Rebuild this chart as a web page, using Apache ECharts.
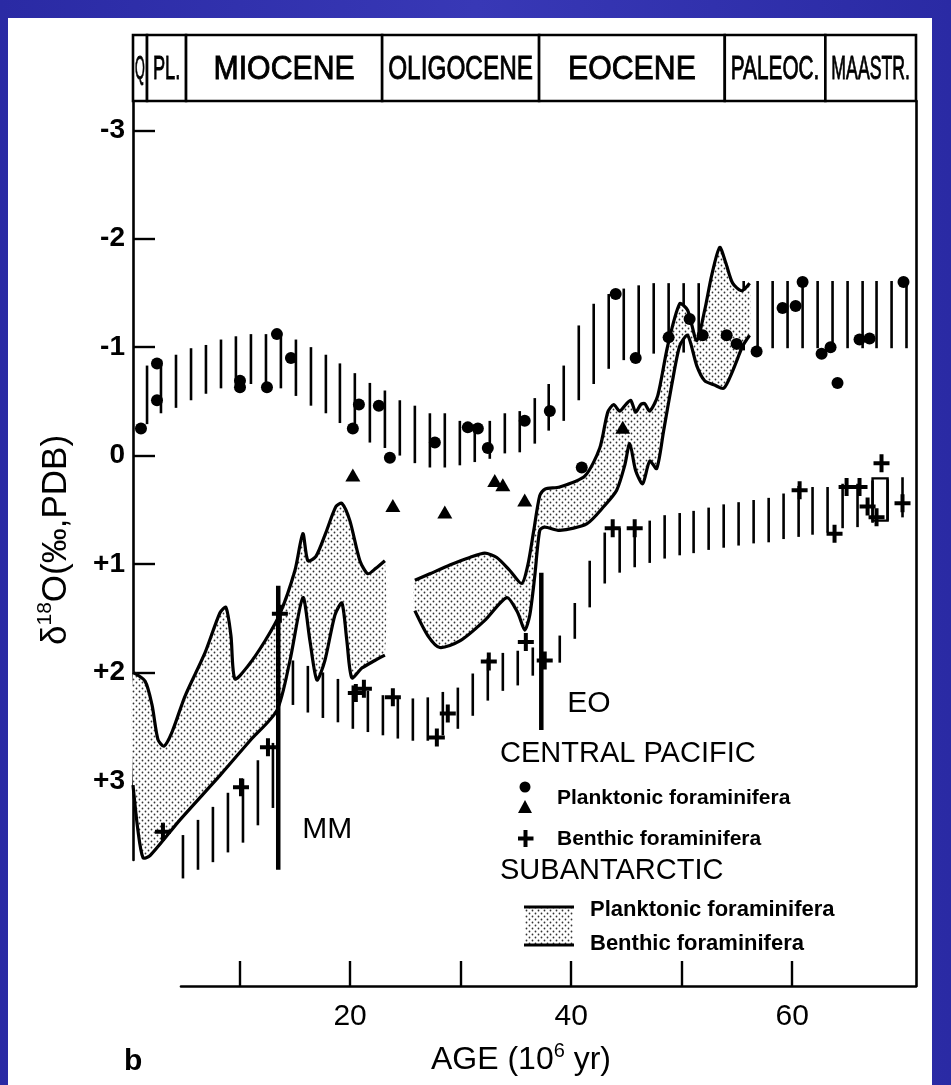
<!DOCTYPE html>
<html>
<head>
<meta charset="utf-8">
<script src="https://cdn.jsdelivr.net/npm/echarts@6/dist/echarts.min.js"></script>
<style>
  html, body { margin: 0; padding: 0; width: 951px; height: 1085px; overflow: hidden;
    background: linear-gradient(90deg, #2a2aa4 0%, #3838b6 50%, #2a2aa4 100%); }
  #panel { position: absolute; left: 8px; top: 18px; width: 924px; height: 1067px; background: #fff; }
  #chart { position: absolute; left: 0; top: 0; width: 951px; height: 1085px; }
</style>
</head>
<body>
<div id="panel"></div>
<div id="chart"></div>
<script>
// ---- Geological time scale (Ma) ----
const epochNames  = ['Q', 'PL.', 'MIOCENE', 'OLIGOCENE', 'EOCENE', 'PALEOC.', 'MAASTR.'];
const epochBounds = [0.36, 1.63, 5.16, 22.9, 37.1, 53.9, 63.0, 71.2];

// ---- Axis ticks ----
const ageTicks   = [10, 20, 30, 40, 50, 60];
const ageLabels  = [20, 40, 60];
const deltaTicks = [-3, -2, -1, 0, 1, 2, 3];

// ---- Central Pacific, planktonic envelope (hatched bars: age, top, bottom) ----
const pkHatchAge = [1.63, 2.89, 4.25, 5.61, 6.96, 8.32, 9.67, 11.03, 12.39, 13.74,
  15.10, 16.46, 17.81, 19.08, 20.43, 21.79, 23.15, 24.50, 25.86, 27.22,
  28.57, 29.93, 31.28, 32.64, 34.00, 35.35, 36.71, 37.97, 39.33, 40.69,
  42.04, 43.40, 44.76, 46.11, 47.47, 48.82, 50.18, 51.54, 52.89, 54.25,
  55.61, 56.87, 58.23, 59.58, 60.94, 62.30, 63.65, 65.01, 66.37, 67.63, 68.99, 70.34];
const pkHatchTop = [-0.83, -0.88, -0.93, -0.99, -1.02, -1.07, -1.10, -1.12, -1.12, -1.12,
  -1.07, -1.00, -0.93, -0.85, -0.76, -0.67, -0.60, -0.51, -0.46, -0.39,
  -0.39, -0.32, -0.29, -0.32, -0.39, -0.41, -0.53, -0.66, -0.83, -1.20,
  -1.40, -1.49, -1.54, -1.57, -1.59, -1.59, -1.59, -1.59, -1.60, -1.60,
  -1.61, -1.61, -1.61, -1.61, -1.61, -1.61, -1.61, -1.61, -1.61, -1.61, -1.61, -1.61];
const pkHatchBottom = [-0.29, -0.39, -0.44, -0.51, -0.57, -0.62, -0.65, -0.66, -0.65, -0.62,
  -0.55, -0.46, -0.39, -0.30, -0.23, -0.12, -0.07, 0.00, 0.07, 0.11,
  0.11, 0.09, 0.06, 0.03, -0.02, -0.03, -0.11, -0.23, -0.32, -0.51,
  -0.66, -0.80, -0.88, -0.89, -0.94, -0.95, -0.95, -1.00, -0.99, -0.99,
  -0.97, -0.97, -0.99, -0.99, -0.99, -0.99, -0.99, -0.99, -0.99, -0.99, -0.99, -0.99];

// ---- Central Pacific, benthic envelope (hatched bars: age, top, bottom) ----
const bnHatchAge = [4.88, 6.24, 7.59, 8.95, 10.31, 11.66, 13.02,
  14.83, 16.18, 17.54, 18.90, 20.25, 21.61, 22.97, 24.32, 25.68, 27.03, 28.39, 29.75, 31.10, 32.46, 33.82, 35.17, 36.53,
  38.97, 40.33, 41.68, 43.04, 44.39, 45.75, 47.11, 48.46, 49.82, 51.08, 52.44, 53.80,
  55.15, 56.51, 57.87, 59.22, 60.58, 61.84, 63.20, 64.56, 65.91, 67.27, 68.63, 69.98];
const bnHatchTop = [3.50, 3.36, 3.24, 3.11, 2.98, 2.81, 2.65,
  1.89, 1.94, 2.00, 2.06, 2.12, 2.17, 2.21, 2.24, 2.24, 2.23, 2.18, 2.14, 2.01, 1.87, 1.82, 1.80, 1.77,
  1.66, 1.36, 0.97, 0.71, 0.67, 0.66, 0.60, 0.55, 0.53, 0.51, 0.48, 0.45,
  0.43, 0.41, 0.39, 0.35, 0.28, 0.29, 0.29, 0.26, 0.26, 0.23, 0.22, 0.20];
const bnHatchBottom = [3.90, 3.82, 3.75, 3.66, 3.57, 3.41, 3.25,
  2.30, 2.37, 2.42, 2.46, 2.52, 2.55, 2.58, 2.61, 2.63, 2.63, 2.58, 2.52, 2.40, 2.26, 2.17, 2.12, 2.03,
  1.91, 1.69, 1.40, 1.18, 1.08, 1.03, 0.99, 0.95, 0.92, 0.90, 0.87, 0.85,
  0.83, 0.81, 0.80, 0.77, 0.75, 0.73, 0.71, 0.67, 0.66, 0.62, 0.60, 0.57];

// ---- Central Pacific samples [age, d18O] ----
const planktonicDots = [[1.08, -0.25], [2.53, -0.51], [2.53, -0.85], [10.04, -0.69], [10.04, -0.63],
  [12.48, -0.63], [13.38, -1.12], [14.65, -0.90], [20.25, -0.25], [20.80, -0.47], [22.60, -0.46],
  [23.60, 0.02], [27.67, -0.12], [30.65, -0.26], [31.56, -0.25], [32.46, -0.07], [35.80, -0.32],
  [38.07, -0.41], [40.96, 0.11], [44.03, -1.49], [45.84, -0.90], [48.82, -1.09], [50.72, -1.26],
  [51.90, -1.11], [54.07, -1.11], [54.97, -1.03], [56.78, -0.96], [59.13, -1.36], [60.31, -1.38],
  [60.94, -1.60], [62.66, -0.94], [63.47, -1.00], [64.10, -0.67], [66.09, -1.07], [67.00, -1.08],
  [70.07, -1.60]];
const planktonicTriangles = [[20.25, 0.18], [23.87, 0.46], [28.57, 0.52], [33.09, 0.23],
  [33.82, 0.27], [35.80, 0.41], [44.67, -0.26]];
const benthicCrosses = [[3.07, 3.47], [10.13, 3.06], [12.57, 2.69], [13.65, 1.46], [20.52, 2.19],
  [21.25, 2.15], [23.87, 2.23], [27.85, 2.60], [28.84, 2.38], [32.55, 1.90], [35.90, 1.72],
  [37.61, 1.89], [43.76, 0.67], [45.75, 0.67], [60.67, 0.32], [63.83, 0.72], [64.92, 0.29],
  [66.09, 0.29], [66.82, 0.47], [67.63, 0.57], [68.08, 0.07], [69.98, 0.44]];
// benthic range box [ageFrom, ageTo, d18O top, d18O bottom]
const benthicRangeBox = [67.27, 68.63, 0.21, 0.60];

// ---- Subantarctic bands: planktonic (upper) and benthic (lower) curves ----
const bandAUpper = [[0.36, 2.00], [1.45, 2.08], [2.08, 2.30], [2.62, 2.62], [3.16, 2.68], [3.89, 2.55],
  [5.06, 2.22], [6.87, 1.82], [8.23, 1.45], [8.77, 1.40], [9.22, 1.66], [9.58, 2.06], [10.76, 1.94],
  [12.30, 1.71], [13.65, 1.46], [15.01, 1.06], [15.73, 0.72], [16.18, 0.97], [16.91, 0.93],
  [17.81, 0.71], [18.72, 0.47], [19.26, 0.44], [19.98, 0.60], [20.89, 0.97], [21.61, 1.09],
  [22.33, 1.04], [23.15, 0.97]];
const bandALower = [[0.36, 3.04], [0.81, 3.46], [1.27, 3.71], [1.90, 3.69], [4.61, 3.36], [8.23, 2.95],
  [10.94, 2.63], [13.38, 2.35], [14.56, 1.89], [15.73, 1.31], [16.37, 1.71], [17.00, 2.07],
  [17.72, 1.89], [18.63, 1.47], [19.26, 1.36], [19.71, 1.71], [20.16, 2.05], [21.07, 1.96],
  [22.24, 1.89], [23.15, 1.84]];
const bandBUpper = [[25.86, 1.15], [27.22, 1.09], [29.02, 1.01], [30.83, 0.94], [32.19, 0.90],
  [33.27, 0.94], [34.45, 1.06], [35.53, 1.18], [36.08, 1.01], [36.62, 0.69], [37.16, 0.37],
  [37.61, 0.31], [38.97, 0.29], [41.23, 0.19], [42.59, -0.07], [43.31, -0.40], [43.85, -0.47],
  [44.39, -0.41], [44.94, -0.47], [45.39, -0.51], [45.84, -0.40], [46.29, -0.47], [46.65, -0.48],
  [47.11, -0.41], [47.83, -0.55], [48.73, -1.01], [49.82, -1.40], [50.54, -1.34], [51.36, -1.06],
  [52.08, -1.34], [52.71, -1.66], [53.44, -1.92], [53.98, -1.78], [54.61, -1.59], [55.42, -1.52],
  [56.15, -1.59]];
const bandBLower = [[25.86, 1.43], [27.03, 1.66], [28.12, 1.77], [29.93, 1.71], [32.19, 1.52],
  [34.18, 1.31], [35.17, 1.45], [35.80, 1.61], [36.26, 1.47], [36.71, 1.11], [37.16, 0.69],
  [37.61, 0.66], [38.97, 0.69], [41.41, 0.63], [43.04, 0.46], [44.12, 0.32], [44.85, 0.09],
  [45.30, -0.11], [45.84, 0.14], [46.47, 0.26], [47.11, 0.05], [47.74, 0.12], [48.37, -0.23],
  [49.10, -0.65], [49.82, -1.01], [50.54, -1.11], [51.36, -0.83], [52.08, -0.69], [52.98, -0.65],
  [53.80, -0.62], [54.61, -0.78], [55.52, -1.01], [56.15, -1.11]];

// ---- Events: Middle Miocene, Eocene/Oligocene ----
const eventNames  = ['MM', 'EO'];
const eventAges   = [13.5, 37.3];
const eventTop    = [1.20, 1.08];
const eventBottom = [3.82, 2.53];

// ------------------------------------------------------------------
const FONT = '"Liberation Sans", Arial, Helvetica, sans-serif';
const bands = [
  { upper: bandAUpper, lower: bandALower },
  { upper: bandBUpper, lower: bandBLower }
];

function makeStipple() {
  const c = document.createElement('canvas');
  c.width = 6; c.height = 6;
  const g = c.getContext('2d');
  g.fillStyle = '#ffffff'; g.fillRect(0, 0, 6, 6);
  g.fillStyle = '#333';
  g.beginPath(); g.arc(1.5, 1.5, 0.9, 0, 7); g.fill();
  g.beginPath(); g.arc(4.5, 4.5, 0.9, 0, 7); g.fill();
  return c;
}
const stipple = { image: makeStipple(), repeat: 'repeat' };
const measureCtx = document.createElement('canvas').getContext('2d');

function hatchRenderer(width) {
  return function (params, api) {
    const a = api.coord([api.value(0), api.value(1)]);
    const b = api.coord([api.value(0), api.value(2)]);
    return { type: 'line', shape: { x1: a[0], y1: a[1], x2: b[0], y2: b[1] },
      style: { stroke: '#000', lineWidth: width } };
  };
}

const labelOffset = { MM: [24, -40], EO: [26, -26] };

const chart = echarts.init(document.getElementById('chart'), null, { renderer: 'canvas' });

const option = {
  animation: false,
  backgroundColor: 'transparent',
  grid: [
    { left: 133, right: 35, top: 35, height: 66, containLabel: false },
    { left: 133, right: 35, top: 101, bottom: 225, containLabel: false },
    { left: 181, right: 35, top: 101, bottom: 99, containLabel: false }
  ],
  xAxis: [
    { gridIndex: 0, type: 'value', min: 0.36, max: 71.2, show: false },
    { gridIndex: 1, type: 'value', min: 0.36, max: 71.2, show: false },
    { gridIndex: 2, type: 'value', min: 4.70, max: 71.2, position: 'bottom',
      splitLine: { show: false },
      axisLine: { show: true, lineStyle: { color: '#000', width: 2.6 } },
      axisTick: { show: true, inside: true, length: 25, customValues: ageTicks,
        lineStyle: { color: '#000', width: 2.4 } },
      axisLabel: { show: true, customValues: ageLabels, margin: 16, color: '#000',
        fontSize: 30, fontFamily: FONT } }
  ],
  yAxis: [
    { gridIndex: 0, type: 'value', min: 0, max: 1, show: false },
    { gridIndex: 1, type: 'value', inverse: true, min: -3.27, max: 3.73,
      splitLine: { show: false },
      axisLine: { show: true, lineStyle: { color: '#000', width: 2.6 } },
      axisTick: { show: true, inside: true, length: 22, customValues: deltaTicks,
        lineStyle: { color: '#000', width: 2.4 } },
      axisLabel: { show: true, customValues: deltaTicks, margin: 8, color: '#000',
        fontSize: 28, fontWeight: 'bold', fontFamily: FONT,
        formatter: v => (v > 0 ? '+' + v : (v < 0 ? '-' + Math.abs(v) : '0')) } },
    { gridIndex: 2, type: 'value', min: 0, max: 1, position: 'right',
      splitLine: { show: false }, axisTick: { show: false }, axisLabel: { show: false },
      axisLine: { show: true, lineStyle: { color: '#000', width: 2.6 } } }
  ],
  series: [
    {
      name: 'Epochs', type: 'custom', xAxisIndex: 0, yAxisIndex: 0, z: 2,
      data: epochNames.map((n, i) => [epochBounds[i], epochBounds[i + 1], i]),
      encode: { x: [0, 1] },
      renderItem(params, api) {
        const a = api.coord([api.value(0), 1]);
        const b = api.coord([api.value(1), 0]);
        const name = epochNames[api.value(2)];
        const w = b[0] - a[0];
        const font = '34px ' + FONT;
        measureCtx.font = font;
        const tw = measureCtx.measureText(name).width;
        const pad = Math.min(12, w * 0.3);
        const s = Math.min(0.89, (w - pad) / tw);
        return { type: 'group', children: [
          { type: 'rect', shape: { x: a[0], y: a[1], width: w, height: b[1] - a[1] },
            style: { fill: '#fff', stroke: '#000', lineWidth: 2.6 } },
          { type: 'text', x: (a[0] + b[0]) / 2, y: (a[1] + b[1]) / 2 + 2, scaleX: s,
            style: { text: name, font: font, fill: '#000', stroke: '#000', lineWidth: 0.9,
              align: 'center', verticalAlign: 'middle', textAlign: 'center', textVerticalAlign: 'middle' } }
        ] };
      }
    },
    {
      name: 'Planktonic envelope', type: 'custom', xAxisIndex: 1, yAxisIndex: 1, z: 2,
      data: pkHatchAge.map((a, i) => [a, pkHatchTop[i], pkHatchBottom[i]]),
      encode: { x: 0, y: [1, 2] },
      renderItem: hatchRenderer(2.6)
    },
    {
      name: 'Benthic envelope', type: 'custom', xAxisIndex: 1, yAxisIndex: 1, z: 2,
      data: bnHatchAge.map((a, i) => [a, bnHatchTop[i], bnHatchBottom[i]]),
      encode: { x: 0, y: [1, 2] },
      renderItem: hatchRenderer(2.6)
    },
    {
      name: 'Subantarctic', type: 'custom', xAxisIndex: 1, yAxisIndex: 1, z: 3,
      data: bands.map((b, i) => [b.upper[0][0], b.upper[0][1], i]),
      encode: { x: 0, y: 1 },
      renderItem(params, api) {
        const b = bands[api.value(2)];
        const up = b.upper.map(p => api.coord(p));
        const lo = b.lower.map(p => api.coord(p));
        return { type: 'group', children: [
          { type: 'polygon', shape: { points: up.concat(lo.slice().reverse()), smooth: 0.25 },
            style: { fill: stipple, stroke: null } },
          { type: 'polyline', shape: { points: up, smooth: 0.25 },
            style: { stroke: '#000', lineWidth: 3.2, fill: null } },
          { type: 'polyline', shape: { points: lo, smooth: 0.25 },
            style: { stroke: '#000', lineWidth: 3.2, fill: null } }
        ] };
      }
    },
    {
      name: 'Events', type: 'custom', xAxisIndex: 1, yAxisIndex: 1, z: 4,
      data: eventNames.map((n, i) => [eventAges[i], eventTop[i], eventBottom[i], i]),
      encode: { x: 0, y: [1, 2] },
      renderItem(params, api) {
        const t = api.coord([api.value(0), api.value(1)]);
        const b = api.coord([api.value(0), api.value(2)]);
        const name = eventNames[api.value(3)];
        const off = labelOffset[name];
        return { type: 'group', children: [
          { type: 'line', shape: { x1: t[0], y1: t[1], x2: b[0], y2: b[1] },
            style: { stroke: '#000', lineWidth: 4.5 } },
          { type: 'text', x: b[0] + off[0], y: b[1] + off[1],
            style: { text: name, font: '30px ' + FONT, fill: '#000',
              align: 'left', verticalAlign: 'middle', textAlign: 'left', textVerticalAlign: 'middle' } }
        ] };
      }
    },
    {
      name: 'Benthic range', type: 'custom', xAxisIndex: 1, yAxisIndex: 1, z: 4,
      data: [benthicRangeBox],
      encode: { x: [0, 1], y: [2, 3] },
      renderItem(params, api) {
        const a = api.coord([api.value(0), api.value(2)]);
        const b = api.coord([api.value(1), api.value(3)]);
        return { type: 'rect', shape: { x: a[0], y: a[1], width: b[0] - a[0], height: b[1] - a[1] },
          style: { fill: null, stroke: '#000', lineWidth: 2.4 } };
      }
    },
    {
      name: 'Planktonic foraminifera', type: 'scatter', xAxisIndex: 1, yAxisIndex: 1, z: 5,
      symbol: 'circle', symbolSize: 12, itemStyle: { color: '#000', opacity: 1 },
      data: planktonicDots
    },
    {
      name: 'Planktonic foraminifera (triangles)', type: 'scatter', xAxisIndex: 1, yAxisIndex: 1, z: 5,
      symbol: 'triangle', symbolSize: [15, 13], itemStyle: { color: '#000', opacity: 1 },
      data: planktonicTriangles
    },
    {
      name: 'Benthic foraminifera', type: 'scatter', xAxisIndex: 1, yAxisIndex: 1, z: 5,
      symbol: 'path://M6,0H10V7H16V11H10V18H6V11H0V7H6Z', symbolSize: [16, 18],
      itemStyle: { color: '#000', opacity: 1 },
      data: benthicCrosses
    }
  ],
  graphic: [
    { type: 'text', x: 56, y: 540, rotation: Math.PI / 2,
      style: { text: '{a|δ}{s|18}{a|O(‰,PDB)}', fill: '#000',
        align: 'center', verticalAlign: 'middle', textAlign: 'center', textVerticalAlign: 'middle',
        rich: { a: { fontSize: 35, fontFamily: FONT, lineHeight: 42 },
                s: { fontSize: 21, fontFamily: FONT, verticalAlign: 'top', lineHeight: 42 } } } },
    { type: 'text', x: 521, y: 1060,
      style: { text: '{a|AGE (10}{s|6}{a| yr)}', fill: '#000',
        align: 'center', verticalAlign: 'middle', textAlign: 'center', textVerticalAlign: 'middle',
        rich: { a: { fontSize: 32, fontFamily: FONT, lineHeight: 38 },
                s: { fontSize: 20, fontFamily: FONT, verticalAlign: 'top', lineHeight: 38 } } } },
    { type: 'text', x: 124, y: 1062,
      style: { text: 'b', font: 'bold 30px ' + FONT, fill: '#000',
        align: 'left', verticalAlign: 'middle', textAlign: 'left', textVerticalAlign: 'middle' } },
    // legend
    { type: 'text', x: 500, y: 754,
      style: { text: 'CENTRAL PACIFIC', font: '29px ' + FONT, fill: '#000',
        align: 'left', verticalAlign: 'middle', textAlign: 'left', textVerticalAlign: 'middle' } },
    { type: 'circle', shape: { cx: 525, cy: 787, r: 5.5 }, style: { fill: '#000' } },
    { type: 'polygon', shape: { points: [[525, 800], [532, 813], [518, 813]] }, style: { fill: '#000' } },
    { type: 'text', x: 557, y: 798,
      style: { text: 'Planktonic foraminifera', font: 'bold 21px ' + FONT, fill: '#000',
        align: 'left', verticalAlign: 'middle', textAlign: 'left', textVerticalAlign: 'middle' } },
    { type: 'rect', shape: { x: 523.5, y: 830, width: 4, height: 17 }, style: { fill: '#000' } },
    { type: 'rect', shape: { x: 518, y: 836.5, width: 15.5, height: 4 }, style: { fill: '#000' } },
    { type: 'text', x: 557, y: 839,
      style: { text: 'Benthic foraminifera', font: 'bold 21px ' + FONT, fill: '#000',
        align: 'left', verticalAlign: 'middle', textAlign: 'left', textVerticalAlign: 'middle' } },
    { type: 'text', x: 500, y: 871,
      style: { text: 'SUBANTARCTIC', font: '29px ' + FONT, fill: '#000',
        align: 'left', verticalAlign: 'middle', textAlign: 'left', textVerticalAlign: 'middle' } },
    { type: 'rect', shape: { x: 525, y: 908, width: 48, height: 36 }, style: { fill: stipple } },
    { type: 'line', shape: { x1: 524, y1: 907, x2: 574, y2: 907 }, style: { stroke: '#000', lineWidth: 3 } },
    { type: 'line', shape: { x1: 524, y1: 945, x2: 574, y2: 945 }, style: { stroke: '#000', lineWidth: 3 } },
    { type: 'text', x: 590, y: 910,
      style: { text: 'Planktonic foraminifera', font: 'bold 22px ' + FONT, fill: '#000',
        align: 'left', verticalAlign: 'middle', textAlign: 'left', textVerticalAlign: 'middle' } },
    { type: 'text', x: 590, y: 944,
      style: { text: 'Benthic foraminifera', font: 'bold 22px ' + FONT, fill: '#000',
        align: 'left', verticalAlign: 'middle', textAlign: 'left', textVerticalAlign: 'middle' } }
  ]
};

chart.setOption(option);
</script>
</body>
</html>
